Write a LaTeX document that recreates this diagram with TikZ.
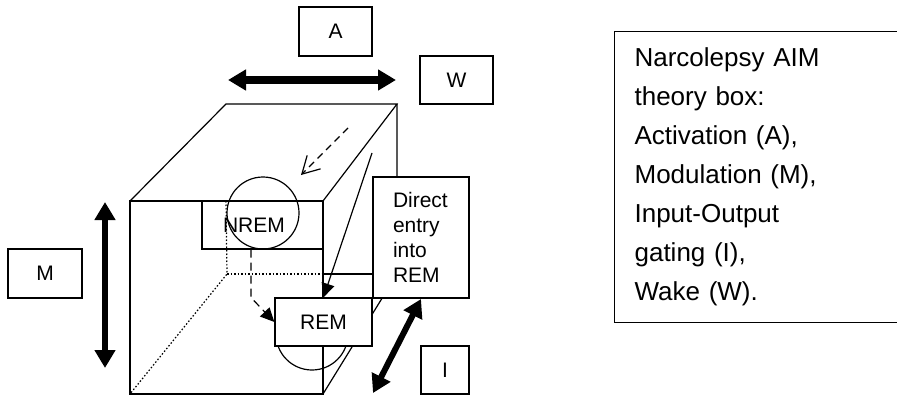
\documentclass[tikz,border=0pt]{standalone}
\usepackage{fontspec}
\setmainfont{Liberation Sans}
\usetikzlibrary{arrows.meta}

\begin{document}
\begin{tikzpicture}[x=1pt, y=-1pt,
  lbl/.style={rectangle, draw, line width=1.2pt, font=\fontsize{21}{25}\selectfont, inner sep=0pt},
  state/.style={lbl, fill=white},
  ring/.style={circle, draw, line width=1.2pt, minimum size=72pt, inner sep=0pt},
  axis/.style={{Triangle[length=18pt,width=20pt]}-{Triangle[length=18pt,width=20pt]}, line width=6pt},
  flow/.style={-{Triangle[length=14pt,width=13pt]}, line width=1.2pt},
  cubeline/.style={line width=1.2pt},
  hidden/.style={line width=1.2pt, dash pattern=on 1.5pt off 2pt},
]
\useasboundingbox (0,0) rectangle (897,396);
\clip (0,0) rectangle (897,396);

\node[lbl, minimum width=73pt, minimum height=49pt] (a) at (335.5,31.5) {A};
\node[lbl, minimum width=73pt, minimum height=48pt] (w) at (456.5,80) {W};
\node[lbl, minimum width=74pt, minimum height=49pt] (m) at (45,273.5) {M};
\node[lbl, minimum width=48pt, minimum height=48pt] (i) at (445,370) {I};

\coordinate (f1) at (130,201);
\coordinate (f2) at (323,201);
\coordinate (f3) at (323,394);
\coordinate (f4) at (130,394);
\coordinate (b1) at (226,104);
\coordinate (b2) at (397,104);
\coordinate (b3) at (397,274);
\coordinate (b4) at (227,274);

\draw[cubeline] (f1) rectangle (f3);
\draw[cubeline] (f1) -- (b1) -- (b2) -- (f2);
\draw[cubeline] (b2) -- (b3) -- (f3);
\draw[hidden] (b1 |- f1) -- (b4) -- (f4);
\draw[hidden] (b4) -- (f3 |- b4);
\draw[cubeline] (f3 |- b4) -- (b3);

\node[ring] (nremring) at (263,213) {};
\node[lbl, minimum width=121pt, minimum height=48pt, text width=79pt, align=left] (nrem) at (262.5,225) {NREM};
\node[ring] (remring) at (312,334) {};
\node[state, minimum width=97pt, minimum height=48pt] (rem) at (323.5,322) {REM};
\node[state, minimum width=96pt, minimum height=121pt, text width=56pt, align=left] (direct) at (421,237.5) {Direct\\entry\\into\\REM};

\node[lbl, anchor=north west, minimum width=400pt, minimum height=291pt, text width=360pt, align=left,
  font=\fontsize{26}{39}\selectfont] (theory) at (614,31)
  {Narcolepsy AIM\\theory box:\\Activation (A),\\Modulation (M),\\Input-Output\\gating (I),\\Wake (W).};

\coordinate (aw) at (228,80);
\coordinate (ae) at (396,80);
\draw[axis, line width=7.5pt] (aw) -- (ae);
\coordinate (mt) at (105,202);
\coordinate (mb) at (105,368);
\draw[axis] (mt) -- (mb);
\coordinate (it) at (421,299);
\coordinate (ib) at (373,393);
\draw[axis] (it) -- (ib);

\coordinate (wake) at (348,128);
\coordinate (wakeend) at (301,175);
\draw[line width=1.2pt, dash pattern=on 7pt off 5pt, -{Straight Barb[length=17pt,width=19pt]}] (wake) -- (wakeend);

\coordinate (entry) at (372,153);
\draw[flow] (entry) -- (rem.north);
\draw[flow, dash pattern=on 8pt off 5pt] ([xshift=-11.5pt]nrem.south) -- ++(0,48) -- (rem.west);

\end{tikzpicture}
\end{document}
